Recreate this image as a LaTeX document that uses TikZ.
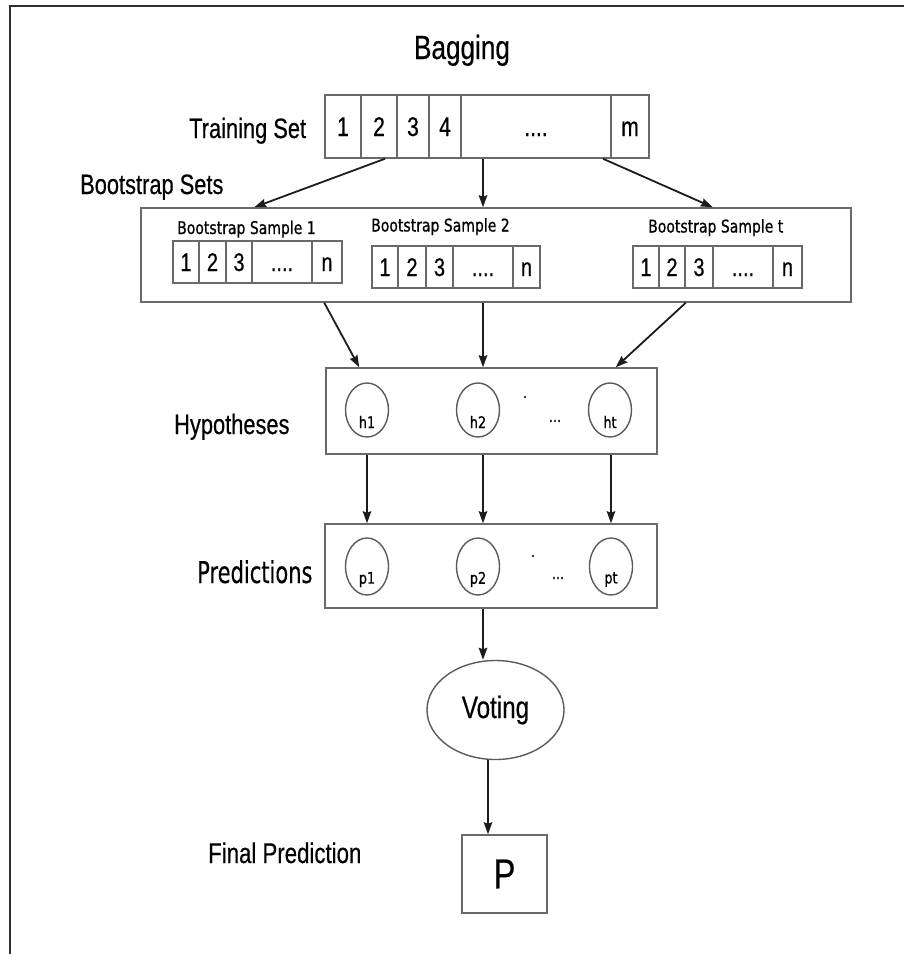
\documentclass[tikz,border=0pt]{standalone}
\usepackage{fontspec}
\setmainfont{Liberation Sans}
\newfontfamily\nar{Liberation Sans}[FakeStretch=0.78,FakeBold=0.4]
\newfontfamily\vnar{DejaVu Sans}[FakeStretch=0.8,FakeBold=0.8]
\newfontfamily\pnar{DejaVu Sans}[FakeStretch=0.7,FakeBold=0.3]
\newcommand\myfs[1]{\fontsize{#1}{#1}\selectfont}
\usetikzlibrary{arrows.meta,shapes.geometric}
\definecolor{boxgray}{HTML}{6A6A6A}
\definecolor{arrowc}{HTML}{1C1C1C}
\definecolor{framec}{HTML}{2F2F2F}
\definecolor{circc}{HTML}{5A5A5A}
\tikzset{
  boxln/.style={draw=boxgray, line width=1.5pt, inner sep=0pt},
  cellT/.style={boxln, minimum height=63pt, text height=19pt, text depth=0pt, font={\nar\myfs{27}}},
  cellS/.style={boxln, minimum height=42pt, text height=18pt, text depth=0pt, font={\nar\myfs{25.5}}},
  bigbox/.style={boxln},
  lbl/.style={inner sep=0pt, anchor=base west, font={\nar\myfs{28}}},
  slbl/.style={inner sep=0pt, anchor=base west, font={\vnar\myfs{17.5}}},
  oval/.style={ellipse, draw=circc, line width=1.4pt, inner sep=0pt, minimum width=43pt},
  ctxt/.style={inner sep=0pt, font={\vnar\myfs{16}}},
  dotn/.style={circle, fill=black!80, inner sep=0pt, minimum size=2.8pt},
  arr/.style={draw=arrowc, line width=1.8pt, -{Stealth[length=12pt,width=8.5pt,inset=1.5pt]}},
}
\begin{document}
\begin{tikzpicture}[x=1pt,y=-1pt]
\useasboundingbox (0,0) rectangle (904,954);
% frame
\draw[framec, line width=2.6pt, line join=miter] (904,6) -- (10,6) -- (10,954);

% title
\node[inner sep=0pt, anchor=base, font={\nar\myfs{33.5}}] (title) at (462,59) {Bagging};

% training set
\node[lbl] (tslbl) at (189,138) {Training Set};
\node[cellT, minimum width=36pt]  (t1) at (343,126.5) {1};
\node[cellT, minimum width=36pt]  (t2) at (379,126.5) {2};
\node[cellT, minimum width=32pt]  (t3) at (413,126.5) {3};
\node[cellT, minimum width=32pt]  (t4) at (445,126.5) {4};
\node[cellT, minimum width=150pt] (t5) at (536,126.5) {....};
\node[cellT, minimum width=38pt]  (t6) at (630,126.5) {m};

% bootstrap sets
\node[lbl] (bslbl) at (80,194) {Bootstrap Sets};
\node[bigbox, minimum width=710pt, minimum height=94pt] (boot) at (496,255) {};

% sample 1
\node[slbl] (s1lbl) at (177,234) {Bootstrap Sample 1};
\node[cellS, minimum width=26pt] (a1) at (186,262) {1};
\node[cellS, minimum width=27pt] (a2) at (212.5,262) {2};
\node[cellS, minimum width=26pt] (a3) at (239,262) {3};
\node[cellS, minimum width=60pt] (a4) at (282,262) {....};
\node[cellS, minimum width=30pt] (a5) at (327,262) {n};
% sample 2
\node[slbl] (s2lbl) at (371,231.5) {Bootstrap Sample 2};
\node[cellS, minimum width=26pt] (b1) at (385,267) {1};
\node[cellS, minimum width=28pt] (b2) at (412,267) {2};
\node[cellS, minimum width=27pt] (b3) at (439.5,267) {3};
\node[cellS, minimum width=60pt] (b4) at (483,267) {....};
\node[cellS, minimum width=27pt] (b5) at (526.5,267) {n};
% sample t
\node[slbl] (stlbl) at (648,232.5) {Bootstrap Sample t};
\node[cellS, minimum width=26pt] (c1) at (646,267) {1};
\node[cellS, minimum width=26pt] (c2) at (672,267) {2};
\node[cellS, minimum width=28pt] (c3) at (699,267) {3};
\node[cellS, minimum width=60pt] (c4) at (743,267) {....};
\node[cellS, minimum width=29pt] (c5) at (787.5,267) {n};

\draw[arr] ([xshift=6pt]t2.south) -- ([xshift=114pt]boot.north west);
\draw[arr] ([xshift=-53pt]t5.south) -- ([xshift=-13pt]boot.north);
\draw[arr] ([xshift=67pt]t5.south) -- ([xshift=-139pt]boot.north east);

% hypotheses
\node[lbl] (hyplbl) at (174,434) {Hypotheses};
\node[bigbox, minimum width=331pt, minimum height=86pt] (hyp) at (491.5,411) {};
\node[oval, minimum height=54pt] (h1) at (367,410) {};
\node[oval, minimum height=54pt] (h2) at (478,410) {};
\node[oval, minimum height=54pt] (ht) at (610,410) {};
\node[ctxt] (h1t) at ([yshift=-12pt]h1.center) {h1};
\node[ctxt] (h2t) at ([yshift=-12pt]h2.center) {h2};
\node[ctxt] (htt) at ([yshift=-12pt]ht.center) {ht};
\node[dotn] (hdot) at (525,397) {};
\node[ctxt] (hdots) at (555,421) {...};

\draw[arr] ([xshift=184pt]boot.south west) -- ([xshift=34pt]hyp.north west);
\draw[arr] ([xshift=-13pt]boot.south) -- ([xshift=-8.5pt]hyp.north);
\draw[arr] ([xshift=-166pt]boot.south east) -- ([xshift=-42pt]hyp.north east);

% predictions
\node[inner sep=0pt, anchor=base west, font={\pnar\myfs{30}}] (predlbl) at (197,583) {Predictions};
\node[bigbox, minimum width=332pt, minimum height=84pt] (pred) at (491,566) {};
\node[oval, minimum height=57pt] (p1) at (367,566.5) {};
\node[oval, minimum height=57pt] (p2) at (478,566.5) {};
\node[oval, minimum height=57pt] (pt) at (611,566.5) {};
\node[ctxt] (p1t) at ([yshift=-13pt]p1.center) {p1};
\node[ctxt] (p2t) at ([yshift=-13pt]p2.center) {p2};
\node[ctxt] (ptt) at ([yshift=-13pt]pt.center) {pt};
\node[dotn] (pdot) at (533,556) {};
\node[ctxt] (pdots) at (558,578) {...};

\draw[arr] (h1 |- hyp.south) -- (h1 |- pred.north);
\draw[arr] ([xshift=-8.5pt]hyp.south) -- ([xshift=-8pt]pred.north);
\draw[arr] ([xshift=1pt]ht.center |- hyp.south) -- ([xshift=1pt]ht.center |- pred.north);

% voting
\node[ellipse, draw=circc, line width=1.4pt, inner sep=0pt, minimum width=137pt, minimum height=99pt, font={\nar\myfs{31}}] (voting) at (495.5,710) {\raisebox{-3pt}{Voting}};
\draw[arr] ([xshift=-8pt]pred.south) -- ([xshift=-12.5pt]voting.north);

% final prediction
\node[lbl, font={\nar\myfs{28.5}}] (finlbl) at (208,863) {Final Prediction};
\node[boxln, minimum width=85pt, minimum height=78pt, font={\nar\myfs{42}}] (pbox) at (504.5,874) {P};
\draw[arr] ([xshift=-7.5pt]voting.south) -- ([xshift=-16.5pt]pbox.north);
\end{tikzpicture}
\end{document}
